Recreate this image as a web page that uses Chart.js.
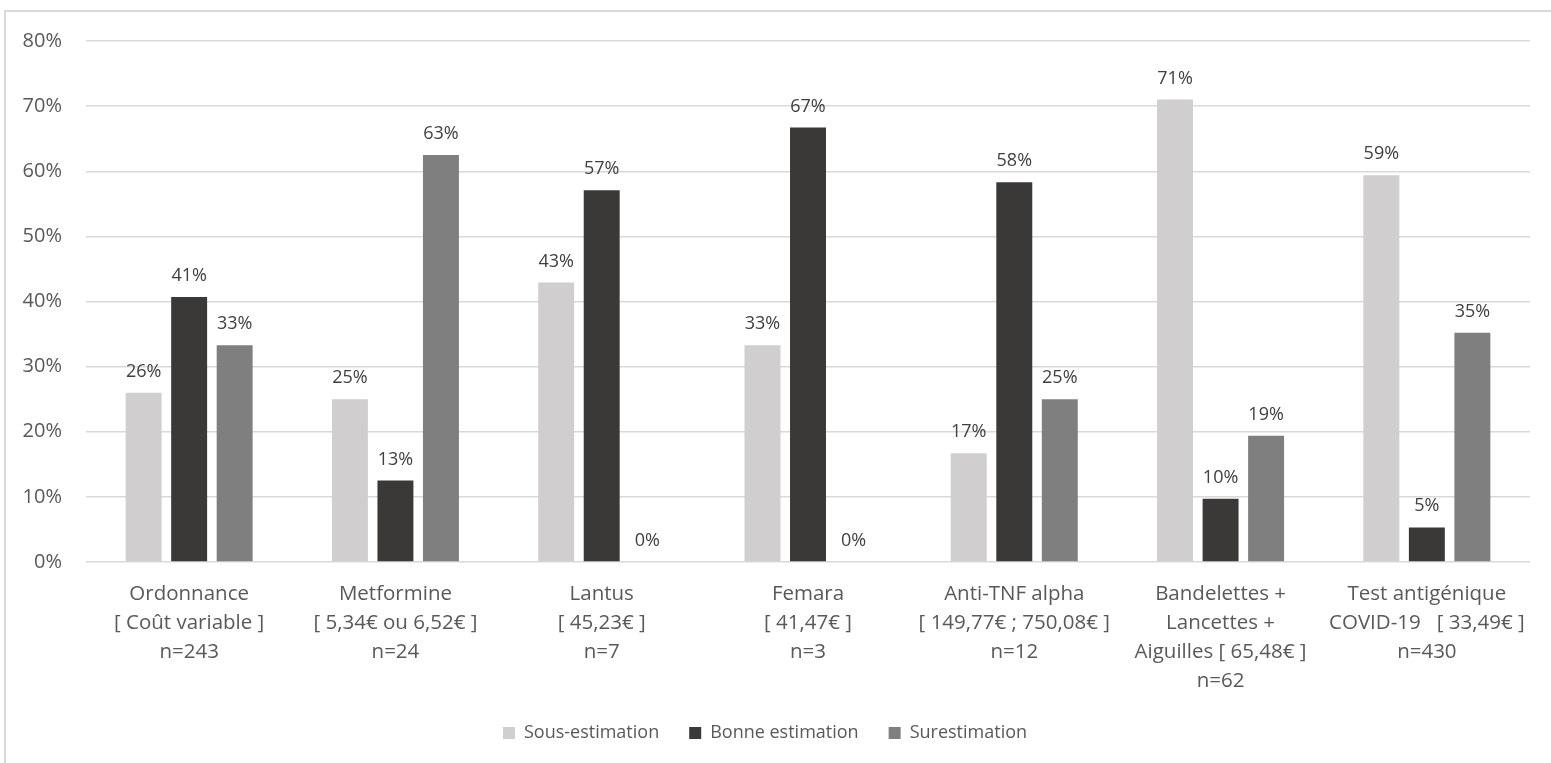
<!DOCTYPE html>
<html>
<head>
<meta charset="utf-8">
<script src="https://cdn.jsdelivr.net/npm/chart.js@4"></script>
<style>
  html, body { margin: 0; padding: 0; background: #fff; overflow: hidden; }
  #frame { position: absolute; left: 4px; top: 10px; width: 2000px; height: 2000px; border: 2px solid #d9d9d9; }
  #chart { position: absolute; left: 0; top: 0; }
</style>
</head>
<body>
<div id="frame"></div>
<canvas id="chart" width="1551" height="800"></canvas>
<script>
// Catégories (étiquettes multi-lignes)
const categories = [
  ['Ordonnance', '[ Coût variable ]', 'n=243'],
  ['Metformine', '[ 5,34€ ou 6,52€ ]', 'n=24'],
  ['Lantus', '[ 45,23€ ]', 'n=7'],
  ['Femara', '[ 41,47€ ]', 'n=3'],
  ['Anti-TNF alpha', '[ 149,77€ ; 750,08€ ]', 'n=12'],
  ['Bandelettes +', 'Lancettes +', 'Aiguilles [ 65,48€ ]', 'n=62'],
  ['Test antigénique', 'COVID-19   [ 33,49€ ]', 'n=430']
];
const seriesNames = ['Sous-estimation', 'Bonne estimation', 'Surestimation'];
const sousEstimation = [26.0, 25.0, 42.9, 33.3, 16.7, 71.0, 59.4];
const bonneEstimation = [40.7, 12.5, 57.1, 66.7, 58.3, 9.7, 5.3];
const surestimation = [33.3, 62.5, 0, 0, 25.0, 19.4, 35.2];
const yTicks = [0, 10, 20, 30, 40, 50, 60, 70, 80];

const colors = ['#d0cece', '#3b3838', '#7f7f7f'];
const font = "'Open Sans', sans-serif";

// Étiquettes de valeurs au-dessus des barres
const valueLabels = {
  id: 'valueLabels',
  afterDatasetsDraw(chart) {
    const ctx = chart.ctx;
    ctx.save();
    ctx.font = '18px ' + font;
    ctx.fillStyle = '#404040';
    ctx.textAlign = 'center';
    ctx.textBaseline = 'alphabetic';
    chart.data.datasets.forEach((ds, i) => {
      chart.getDatasetMeta(i).data.forEach((bar, j) => {
        ctx.fillText(Math.round(ds.data[j]) + '%', bar.x, bar.y - 16);
      });
    });
    ctx.restore();
  }
};

new Chart(document.getElementById('chart'), {
  type: 'bar',
  data: {
    labels: categories,
    datasets: [
      { label: seriesNames[0], data: sousEstimation, backgroundColor: colors[0] },
      { label: seriesNames[1], data: bonneEstimation, backgroundColor: colors[1] },
      { label: seriesNames[2], data: surestimation, backgroundColor: colors[2] }
    ]
  },
  options: {
    responsive: false,
    animation: false,
    devicePixelRatio: 1,
    datasets: { bar: { categoryPercentage: 0.662, barPercentage: 0.79 } },
    layout: { padding: { top: 41, right: 21, left: 0, bottom: 48 } },
    scales: {
      y: {
        min: 0, max: 80,
        afterBuildTicks: s => { s.ticks = yTicks.map(v => ({ value: v })); },
        afterFit: s => { s.width = 86; },
        border: { display: false },
        grid: { color: '#d9d9d9', lineWidth: 1.5, drawTicks: false },
        ticks: { padding: 24, color: '#595959', font: { family: font, size: 20 }, callback: v => v + '%' }
      },
      x: {
        afterFit: s => { s.height = 132; },
        border: { display: false },
        grid: { display: false },
        ticks: { padding: 10, color: '#595959', maxRotation: 0, autoSkip: false,
                 font: { family: font, size: 20.5, lineHeight: 1.41 } }
      }
    },
    plugins: {
      legend: {
        position: 'bottom',
        labels: { boxWidth: 12, boxHeight: 12, padding: 30, color: '#595959', font: { family: font, size: 18 } }
      },
      tooltip: { enabled: false }
    }
  },
  plugins: [valueLabels]
});
</script>
</body>
</html>
